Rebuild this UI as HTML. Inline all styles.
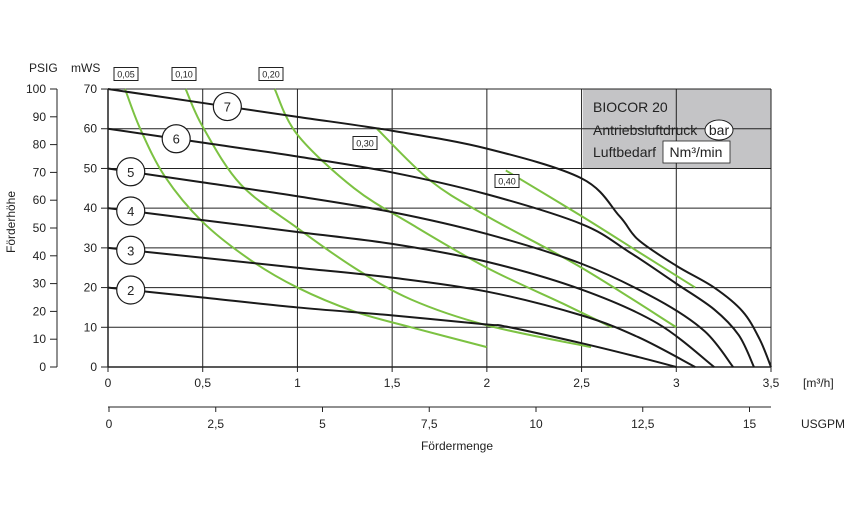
<!DOCTYPE html>
<html><head><meta charset="utf-8"><style>
body{margin:0;background:#fff;}
svg{display:block;font-family:"Liberation Sans",sans-serif;}
</style></head><body>
<svg id="c" width="859" height="512" viewBox="0 0 859 512" xmlns="http://www.w3.org/2000/svg"></svg>
<script>
// ---- data ----
const xTicks=[0,0.5,1,1.5,2,2.5,3,3.5];
const xTickLabels=["0","0,5","1","1,5","2","2,5","3","3,5"];
const yTicks=[0,10,20,30,40,50,60,70];
const psigTicks=[0,10,20,30,40,50,60,70,80,90,100];
const usgpmTicks=[0,2.5,5,7.5,10,12.5,15];
const usgpmLabels=["0","2,5","5","7,5","10","12,5","15"];
const pumpBars=["2","3","4","5","6","7"];
const pump2=[[0,20],[0.5,17.5],[1,15],[1.5,13],[2,10.7],[2.1,10.2],[2.5,6],[2.8,2.5],[3.0,0]];
const pump3=[[0,30],[0.5,27.5],[1,25],[1.5,22.5],[2,19],[2.5,13],[2.8,7.5],[3.1,0]];
const pump4=[[0,40],[0.5,37],[1,34],[1.5,31],[2,26.5],[2.5,19.5],[2.9,11],[3.2,0]];
const pump5=[[0,50],[0.5,46.5],[1,43],[1.5,39],[2,33.5],[2.5,26],[2.9,17],[3.15,9],[3.3,0]];
const pump6=[[0,60],[0.5,56.5],[1,53],[1.5,49],[2,43.5],[2.5,36],[2.75,29],[3.0,21],[3.2,14.5],[3.33,8],[3.41,0]];
const pump7=[[0,70],[0.5,66.5],[1,63],[1.5,59.5],[2,55],[2.5,47.5],[2.7,38],[2.8,32],[3.0,25.5],[3.2,20],[3.35,14],[3.44,7],[3.5,0]];
const airLabels=["0,05","0,10","0,20","0,30","0,40"];
const air005=[[0.09,70],[0.17,60],[0.3,48],[0.5,36.5],[0.75,27],[1,20],[1.3,14],[1.6,10],[2.0,5]];
const air010=[[0.41,70],[0.5,60.5],[0.7,46],[1,35],[1.3,25],[1.6,17],[2,10.5],[2.55,5]];
const air020=[[0.88,70],[1,58.5],[1.3,45],[1.6,36],[2,25],[2.4,16],[2.66,10]];
const air030=[[1.42,60],[1.7,47],[2.0,38],[2.5,25],[3.0,10]];
const air040=[[2.1,49.5],[2.5,38],[2.8,29],[3.1,20]];

// ---- scales ----
const X=v=>108+v*189.43;
const Y=v=>367-v*3.971;
const P=v=>367-v*2.78;
const U=v=>109+v*42.7;
const svg=document.getElementById('c');
const NS="http://www.w3.org/2000/svg";
function mk(tag,attrs,name,txt){const e=document.createElementNS(NS,tag);for(const k in attrs)e.setAttribute(k,attrs[k]);


if(txt!==undefined)e.textContent=txt;svg.appendChild(e);return e;}
function path(pts){const p=pts.map(q=>[X(q[0]),Y(q[1])]);let d="M"+p[0][0]+","+p[0][1];
for(let i=0;i<p.length-1;i++){const p0=p[i-1]||p[i],p1=p[i],p2=p[i+1],p3=p[i+2]||p2;
d+=" C"+(p1[0]+(p2[0]-p0[0])/6)+","+(p1[1]+(p2[1]-p0[1])/6)+" "+(p2[0]-(p3[0]-p1[0])/6)+","+(p2[1]-(p3[1]-p1[1])/6)+" "+p2[0]+","+p2[1];}return d;}

// grey box
mk('rect',{x:583,y:89,width:188,height:79,fill:'#c4c4c6'},'legend-box');
// grid
yTicks.forEach(v=>{if(v>0)mk('line',{x1:X(0),x2:X(3.5),y1:Y(v),y2:Y(v),stroke:'#222','stroke-width':1},'grid-h');});
xTicks.forEach(v=>{if(v>0)mk('line',{x1:X(v),x2:X(v),y1:Y(0),y2:Y(70),stroke:'#222','stroke-width':1},'grid-v');});
mk('line',{x1:X(0),x2:X(0),y1:Y(0),y2:Y(70),stroke:'#222','stroke-width':1.5},'y-axis-mws');
mk('line',{x1:X(0),x2:X(3.5),y1:Y(0),y2:Y(0),stroke:'#222','stroke-width':1.5},'x-axis-m3h');
// mWS ticks
yTicks.forEach(v=>{mk('line',{x1:101,x2:108,y1:Y(v),y2:Y(v),stroke:'#222'},'mws-tick');
mk('text',{x:97,y:Y(v)+4,'text-anchor':'end','font-size':12,fill:'#222'},'mws-tick-label',String(v));});
mk('text',{x:71,y:72,'font-size':12,fill:'#222'},'mws-unit','mWS');
// PSIG axis
mk('line',{x1:57,x2:57,y1:P(0),y2:P(100),stroke:'#222'},'psig-axis');
psigTicks.forEach(v=>{mk('line',{x1:50,x2:57,y1:P(v),y2:P(v),stroke:'#222'},'psig-tick');
mk('text',{x:46,y:P(v)+4,'text-anchor':'end','font-size':12,fill:'#222'},'psig-tick-label',String(v));});
mk('text',{x:29,y:72,'font-size':12,fill:'#222'},'psig-unit','PSIG');
mk('text',{x:15,y:222,'font-size':12,fill:'#222','text-anchor':'middle',transform:'rotate(-90 15 222)'},'y-axis-title','Förderhöhe');
// x ticks
xTicks.forEach((v,i)=>{mk('line',{x1:X(v),x2:X(v),y1:Y(0),y2:Y(0)+5,stroke:'#222'},'x-tick');
mk('text',{x:X(v),y:387,'text-anchor':'middle','font-size':12,fill:'#222'},'x-tick-label',xTickLabels[i]);});
mk('text',{x:803,y:387,'font-size':12,fill:'#222'},'x-unit','[m³/h]');
// USGPM axis
mk('line',{x1:108,x2:771,y1:407,y2:407,stroke:'#222'},'usgpm-axis');
usgpmTicks.forEach((v,i)=>{mk('line',{x1:U(v),x2:U(v),y1:407,y2:412,stroke:'#222'},'usgpm-tick');
mk('text',{x:U(v),y:428,'text-anchor':'middle','font-size':12,fill:'#222'},'usgpm-tick-label',usgpmLabels[i]);});
mk('text',{x:801,y:428,'font-size':12,fill:'#222'},'usgpm-unit','USGPM');
mk('text',{x:457,y:450,'text-anchor':'middle','font-size':12,fill:'#222'},'x-axis-title','Fördermenge');
// green air curves
[air005,air010,air020,air030,air040].forEach((s,i)=>mk('path',{d:path(s),fill:'none',stroke:'#7cc242','stroke-width':2},'air-curve-'+airLabels[i].replace(',','')));
// black pump curves
[pump2,pump3,pump4,pump5,pump6,pump7].forEach((s,i)=>mk('path',{d:path(s),fill:'none',stroke:'#1a1a1a','stroke-width':2},'pump-curve-'+pumpBars[i]+'bar'));
// circles on pump curves
const circPos=[[0.12,null],[0.12,null],[0.12,null],[0.12,null],[0.36,null],[0.63,null]];
const allPump=[pump2,pump3,pump4,pump5,pump6,pump7];
function interp(s,x){for(let i=0;i<s.length-1;i++){if(x>=s[i][0]&&x<=s[i+1][0]){const t=(x-s[i][0])/(s[i+1][0]-s[i][0]);return s[i][1]+t*(s[i+1][1]-s[i][1]);}}return s[0][1];}
pumpBars.forEach((b,i)=>{const cx=X(circPos[i][0]),cy=Y(interp(allPump[i],circPos[i][0]));
mk('circle',{cx:cx,cy:cy,r:14,fill:'#fff',stroke:'#1a1a1a','stroke-width':1.2},'pressure-marker-'+b);
mk('text',{x:cx,y:cy+5,'text-anchor':'middle','font-size':13,fill:'#222'},'pressure-label-'+b,b);});
// air labels
const airPos=[[126,74],[184,74],[271,74],[365,143],[507,181]];
airLabels.forEach((l,i)=>{const [cx,cy]=airPos[i];
mk('rect',{x:cx-12,y:cy-6.5,width:24,height:13,fill:'#fff',stroke:'#222','stroke-width':1},'air-label-box');
mk('text',{x:cx,y:cy+3.5,'text-anchor':'middle','font-size':9,fill:'#222'},'air-consumption-label',l);});
// legend text
mk('text',{x:593,y:112,'font-size':14,fill:'#222'},'legend-title','BIOCOR 20');
mk('text',{x:593,y:135,'font-size':14,fill:'#222'},'legend-pressure','Antriebsluftdruck');
mk('ellipse',{cx:719,cy:130,rx:14,ry:10,fill:'#fff',stroke:'#222'},'legend-bar-ellipse');
mk('text',{x:719,y:135,'text-anchor':'middle','font-size':14,fill:'#222'},'legend-bar-unit','bar');
mk('text',{x:593,y:157,'font-size':14,fill:'#222'},'legend-air','Luftbedarf');
mk('rect',{x:663,y:141,width:67,height:22,fill:'#fff',stroke:'#222','stroke-width':0.8},'legend-nm-box');
mk('text',{x:696,y:157,'text-anchor':'middle','font-size':14,fill:'#222'},'legend-nm-unit','Nm³/min');
</script>
</body></html>
